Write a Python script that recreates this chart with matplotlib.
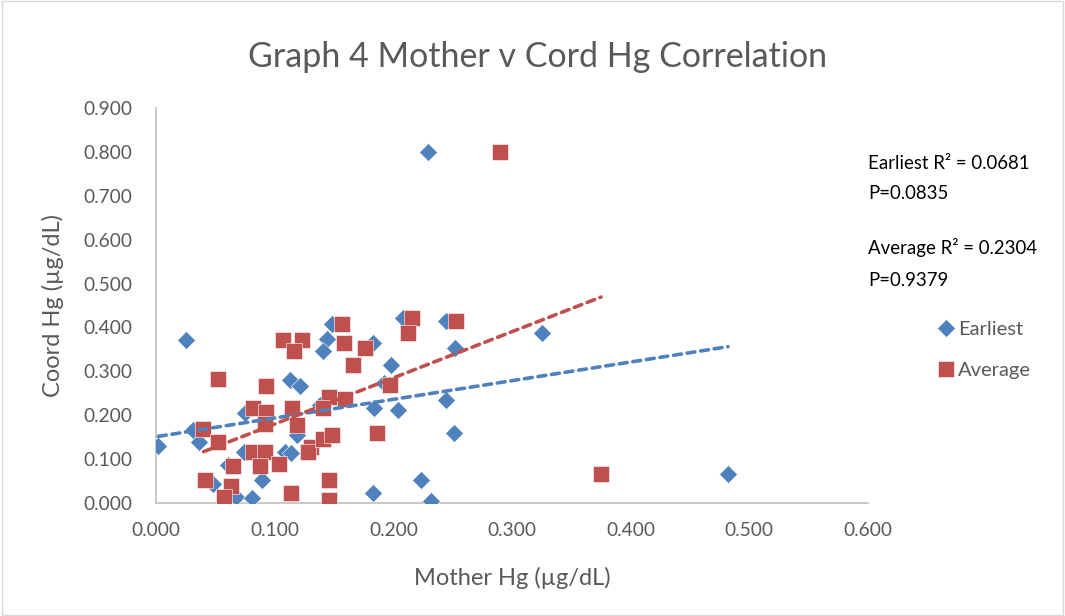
import numpy as np
import matplotlib
matplotlib.use("Agg")
import matplotlib.pyplot as plt

plt.rcParams['font.family'] = ['Lato', 'DejaVu Sans']

# Earliest (mother Hg, cord Hg)
earliest_x = [0.002, 0.025, 0.031, 0.036, 0.048, 0.061, 0.067, 0.081, 0.075, 0.074,
              0.089, 0.088, 0.113, 0.121, 0.109, 0.114, 0.119, 0.138, 0.148, 0.144,
              0.141, 0.208, 0.244, 0.183, 0.198, 0.192, 0.184, 0.204, 0.252, 0.244,
              0.251, 0.223, 0.183, 0.232, 0.229, 0.325, 0.482]
earliest_y = [0.130, 0.371, 0.166, 0.139, 0.043, 0.087, 0.014, 0.011, 0.205, 0.116,
              0.052, 0.087, 0.280, 0.267, 0.116, 0.113, 0.155, 0.223, 0.408, 0.373,
              0.347, 0.421, 0.415, 0.364, 0.314, 0.273, 0.216, 0.212, 0.353, 0.235,
              0.159, 0.052, 0.023, 0.005, 0.800, 0.387, 0.066]

# Average (mother Hg, cord Hg)
average_x = [0.052, 0.040, 0.052, 0.041, 0.063, 0.057, 0.065, 0.082, 0.093, 0.093,
             0.107, 0.123, 0.116, 0.115, 0.119, 0.092, 0.082, 0.092, 0.088, 0.104,
             0.114, 0.131, 0.128, 0.141, 0.148, 0.146, 0.141, 0.146, 0.146, 0.157,
             0.158, 0.176, 0.166, 0.216, 0.212, 0.253, 0.197, 0.159, 0.186, 0.290,
             0.375]
average_y = [0.282, 0.168, 0.139, 0.052, 0.039, 0.014, 0.084, 0.216, 0.207, 0.267,
             0.371, 0.371, 0.346, 0.216, 0.178, 0.180, 0.116, 0.116, 0.084, 0.089,
             0.023, 0.128, 0.116, 0.146, 0.155, 0.242, 0.216, 0.052, 0.007, 0.408,
             0.364, 0.353, 0.314, 0.421, 0.387, 0.415, 0.269, 0.237, 0.159, 0.800,
             0.066]

blue = '#4F81BD'
red = '#C0504D'
grey = '#595959'

fig = plt.figure(figsize=(10.65, 6.16), dpi=100)
ax = fig.add_axes([0.1465, 0.1834, 0.6685, 0.6413])

ax.plot(earliest_x, earliest_y, 'D', color=blue, ms=9, mec='white', mew=0.4,
        label='Earliest', zorder=3)
ax.plot(average_x, average_y, 's', color=red, ms=11, mec='white', mew=0.4,
        label='Average', zorder=3)

# linear trend lines
for xs, ys, c in [(earliest_x, earliest_y, blue), (average_x, average_y, red)]:
    xs = np.array(xs)
    m, b = np.polyfit(xs, ys, 1)
    xx = np.array([xs.min(), xs.max()])
    ax.plot(xx, m * xx + b, color=c, lw=2.6, ls=(0, (2.2, 1.6)),
            dash_capstyle='round', zorder=4)

ax.set_xlim(0, 0.6)
ax.set_ylim(0, 0.9)
ax.set_xticks(np.arange(0, 0.61, 0.1))
ax.set_yticks(np.arange(0, 0.91, 0.1))
ax.xaxis.set_major_formatter(matplotlib.ticker.FormatStrFormatter('%.3f'))
ax.yaxis.set_major_formatter(matplotlib.ticker.FormatStrFormatter('%.3f'))
ax.tick_params(length=0, labelsize=13.8, labelcolor=grey)
ax.tick_params(axis='x', pad=14)
ax.tick_params(axis='y', pad=17)
for s in ['top', 'right']:
    ax.spines[s].set_visible(False)
for s in ['left', 'bottom']:
    ax.spines[s].set_color('#BFBFBF')
    ax.spines[s].set_linewidth(1.2)

ax.set_xlabel('Mother Hg (µg/dL)', fontsize=17, color=grey, labelpad=20)
ax.set_ylabel('Coord Hg (µg/dL)', fontsize=17, color=grey, labelpad=14)
fig.text(0.505, 0.908, 'Graph 4 Mother v Cord Hg Correlation', fontsize=24.5,
         color=grey, ha='center', va='center')

fig.text(0.815, 0.735, 'Earliest R² = 0.0681', fontsize=13.4, color='black', va='center')
fig.text(0.815, 0.686, 'P=0.0835', fontsize=13.4, color='black', va='center')
fig.text(0.815, 0.599, 'Average R² = 0.2304', fontsize=13.4, color='black', va='center')
fig.text(0.815, 0.545, 'P=0.9379', fontsize=13.4, color='black', va='center')

leg = fig.legend(loc='center left', bbox_to_anchor=(0.860, 0.432), frameon=False,
                 fontsize=14.5, labelcolor=grey, handletextpad=0.0, labelspacing=1.15,
                 handlelength=1.2)

fig.patches.append(matplotlib.patches.Rectangle((0.002, 0.002), 0.996, 0.996,
                   transform=fig.transFigure, fill=False, ec='#D9D9D9', lw=1))

fig.savefig('out.png', dpi=100)
